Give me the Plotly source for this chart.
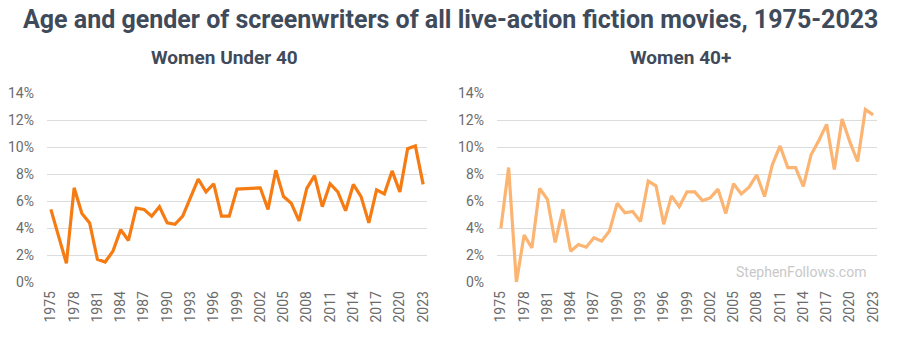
import plotly.graph_objects as go
from plotly.subplots import make_subplots

years = list(range(1975, 2024))

women_under_40 = [
    5.4, 3.4, 1.4, 7.0, 5.1, 4.4, 1.7, 1.5, 2.3, 3.9,
    3.1, 5.5, 5.4, 4.9, 5.6, 4.4, 4.3, 4.9, 6.3, 7.65,
    6.7, 7.3, 4.9, 4.9, 6.9, 6.95, 7.0, 7.0, 5.4, 8.3,
    6.35, 5.85, 4.55, 6.95, 7.9, 5.6, 7.3, 6.7, 5.3, 7.25,
    6.35, 4.4, 6.85, 6.55, 8.25, 6.7, 9.9, 10.1, 7.25,
]

women_40_plus = [
    4.0, 8.5, 0.0, 3.5, 2.55, 6.95, 6.15, 2.95, 5.4, 2.3,
    2.8, 2.6, 3.3, 3.05, 3.8, 5.85, 5.15, 5.25, 4.5, 7.5,
    7.15, 4.3, 6.4, 5.6, 6.7, 6.7, 6.05, 6.25, 6.9, 5.1,
    7.3, 6.55, 7.05, 7.95, 6.35, 8.7, 10.1, 8.5, 8.5, 7.1,
    9.45, 10.5, 11.7, 8.35, 12.1, 10.4, 8.95, 12.8, 12.4,
]

panel_titles = ["Women Under 40", "Women 40+"]
year_ticks = list(range(1975, 2024, 3))
pct_ticks = [0, 2, 4, 6, 8, 10, 12, 14]
pct_labels = [f"{v}%" for v in pct_ticks]

colors = ["#F57B12", "#FBB472"]
FONT = "Roboto, Arial, sans-serif"

fig = make_subplots(rows=1, cols=2)

for i, (vals, col) in enumerate(zip([women_under_40, women_40_plus], colors), start=1):
    fig.add_trace(
        go.Scatter(
            x=years, y=vals, mode="lines",
            line=dict(color=col, width=3.2),
            cliponaxis=False, hoverinfo="skip", showlegend=False,
        ),
        row=1, col=i,
    )

y_dom = [1 - 282.3 / 343, 1 - 93.3 / 343]
x_doms = [[47 / 900, 427 / 900], [497 / 900, 877 / 900]]

axis_font = dict(family=FONT, size=14, color="#6b6b6b")
for i, dom in enumerate(x_doms, start=1):
    sfx = "" if i == 1 else str(i)
    fig.update_layout(**{
        f"xaxis{sfx}": dict(
            domain=dom, range=[1974.5, 2023.5],
            tickmode="array", tickvals=year_ticks,
            ticktext=[str(y) for y in year_ticks],
            tickangle=-90, tickfont=axis_font,
            showgrid=False, zeroline=False, showline=False, ticks="",
            ticklabelstandoff=5, automargin=False,
        ),
        f"yaxis{sfx}": dict(
            domain=y_dom, range=[0, 14],
            tickmode="array", tickvals=pct_ticks, ticktext=pct_labels,
            tickfont=axis_font, showgrid=True, gridcolor="#dcdcdc",
            gridwidth=1, zeroline=False, showline=False, ticks="",
            ticklabelstandoff=12, automargin=False,
        ),
    })

annotations = [
    dict(text="<b>Age and gender of screenwriters of all live-action fiction movies, 1975-2023</b>",
         x=0.5, y=1 - 20 / 343, xref="paper", yref="paper",
         xanchor="center", yanchor="middle", showarrow=False,
         font=dict(family=FONT, size=25, color="#3f4a5a")),
    dict(text=f"<b>{panel_titles[0]}</b>",
         x=224 / 900, y=1 - 58 / 343, xref="paper", yref="paper",
         xanchor="center", yanchor="middle", showarrow=False,
         font=dict(family=FONT, size=19, color="#3f4a5a")),
    dict(text=f"<b>{panel_titles[1]}</b>",
         x=680 / 900, y=1 - 58 / 343, xref="paper", yref="paper",
         xanchor="center", yanchor="middle", showarrow=False,
         font=dict(family=FONT, size=19, color="#3f4a5a")),
    dict(text="StephenFollows.com",
         x=868 / 900, y=1 - 272 / 343, xref="paper", yref="paper",
         xanchor="right", yanchor="middle", showarrow=False,
         font=dict(family=FONT, size=14, color="#c8c8c8")),
]

fig.update_layout(
    width=900, height=343,
    margin=dict(l=0, r=0, t=0, b=0),
    paper_bgcolor="white", plot_bgcolor="white",
    annotations=annotations,
    font=dict(family=FONT),
)

fig.write_html("out.html", config={"displayModeBar": False})
